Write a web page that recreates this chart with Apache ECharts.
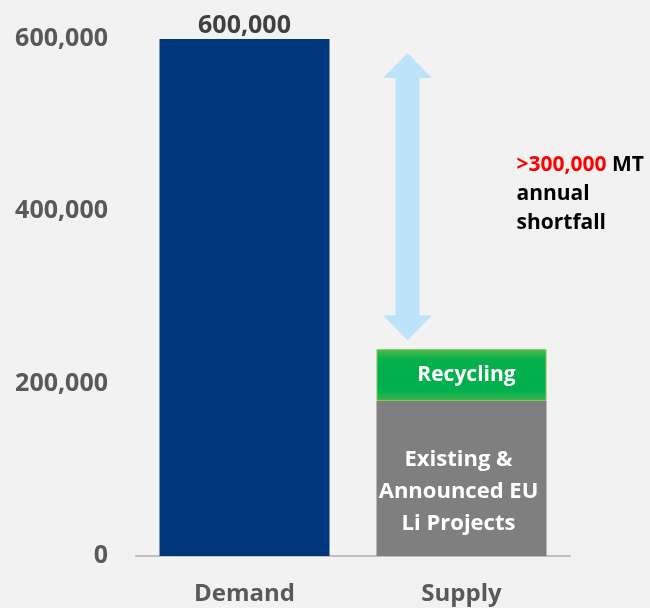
<!DOCTYPE html>
<html>
<head>
<meta charset="utf-8">
<script src="https://cdn.jsdelivr.net/npm/echarts@6/dist/echarts.min.js"></script>
<style>
html,body{margin:0;padding:0;background:#f2f2f2;}
#c{width:650px;height:608px;}
</style>
</head>
<body>
<div id="c"></div>
<script>
const categories = ['Demand', 'Supply'];
const demandValues = [600000, '-'];
const existingValues = ['-', 180000];
const recyclingValues = ['-', 60000];
const yTicks = [0, 200000, 400000, 600000];
const existingLabel = 'Existing &\nAnnounced EU\nLi Projects';
const recyclingLabel = 'Recycling';
const shortfallValue = '>300,000';
const shortfallRest = ' MT\nannual\nshortfall';

const FONT = '"Open Sans", "Noto Sans", sans-serif';
const fmt = v => v.toLocaleString('en-US');

const supplyTotal = existingValues[1] + recyclingValues[1];
const demandTotal = demandValues[0];

const chart = echarts.init(document.getElementById('c'), null, {renderer: 'canvas'});
chart.setOption({
  backgroundColor: '#f2f2f2',
  animation: false,
  grid: {left: 136, right: 80, top: 39, bottom: 52, containLabel: false},
  xAxis: {
    type: 'category',
    data: categories,
    axisLine: {lineStyle: {color: '#bfbfbf', width: 2}},
    axisTick: {show: false},
    axisLabel: {color: '#595959', fontSize: 24, fontWeight: 'bold', fontFamily: FONT, margin: 26}
  },
  yAxis: {
    type: 'value',
    min: yTicks[0],
    max: yTicks[yTicks.length - 1],
    interval: yTicks[1] - yTicks[0],
    splitLine: {show: false},
    axisLine: {show: false},
    axisTick: {show: false},
    axisLabel: {color: '#595959', fontSize: 25, fontWeight: 'bold', fontFamily: FONT, margin: 28,
      formatter: v => fmt(v)}
  },
  series: [
    {
      name: 'Demand', type: 'bar', stack: 'total', barWidth: 170,
      data: demandValues,
      itemStyle: {color: '#00377a'},
      label: {show: true, position: 'top', distance: 1, color: '#404040', fontSize: 25,
        fontWeight: 'bold', fontFamily: FONT, formatter: p => fmt(p.value)}
    },
    {
      name: 'Existing', type: 'bar', stack: 'total', barWidth: 170,
      data: existingValues,
      itemStyle: {color: '#7f7f7f'},
      label: {show: true, position: 'inside', offset: [-3, 13], color: '#ffffff', fontSize: 22,
        fontWeight: 'bold', fontFamily: FONT, lineHeight: 32, formatter: () => existingLabel}
    },
    {
      name: 'Recycling', type: 'bar', stack: 'total', barWidth: 170,
      data: recyclingValues,
      itemStyle: {
        color: new echarts.graphic.LinearGradient(0, 0, 0, 1, [
          {offset: 0, color: '#4dba4a'}, {offset: 0.2, color: '#06b04c'},
          {offset: 0.8, color: '#00af4e'}, {offset: 1, color: '#3bb54a'}]),
        borderColor: '#7ec35a', borderWidth: 1
      },
      label: {show: true, position: 'inside', offset: [5, 0], color: '#ffffff', fontSize: 21,
        fontWeight: 'bold', fontFamily: FONT, formatter: () => recyclingLabel}
    },
    {
      name: 'Gap', type: 'custom',
      data: [[1, supplyTotal, demandTotal]],
      encode: {x: 0, y: [1, 2]},
      z: 5,
      renderItem: function (params, api) {
        const top = api.coord([api.value(0), api.value(2)]);
        const bot = api.coord([api.value(0), api.value(1)]);
        const cx = top[0] - 54;
        const yT = top[1] + 14;
        const yB = bot[1] - 9;
        const hl = 25, hw = 24.5, sw = 12;
        const pts = [
          [cx, yT], [cx + hw, yT + hl], [cx + sw, yT + hl], [cx + sw, yB - hl],
          [cx + hw, yB - hl], [cx, yB], [cx - hw, yB - hl], [cx - sw, yB - hl],
          [cx - sw, yT + hl], [cx - hw, yT + hl]
        ];
        const midY = (yT + yB) / 2;
        return {
          type: 'group',
          children: [
            {type: 'polygon', shape: {points: pts}, style: {fill: '#bde3fb'}},
            {
              type: 'text',
              style: {
                x: cx + 109, y: midY - 3,
                text: '{r|' + shortfallValue + '}' + shortfallRest,
                fill: '#000000',
                fontSize: 21, fontWeight: 'bold', fontFamily: FONT,
                lineHeight: 29,
                align: 'left', verticalAlign: 'middle',
                rich: {r: {fill: '#ff0000', fontSize: 21, fontWeight: 'bold', fontFamily: FONT, lineHeight: 29}}
              }
            }
          ]
        };
      }
    }
  ]
});
</script>
</body>
</html>
